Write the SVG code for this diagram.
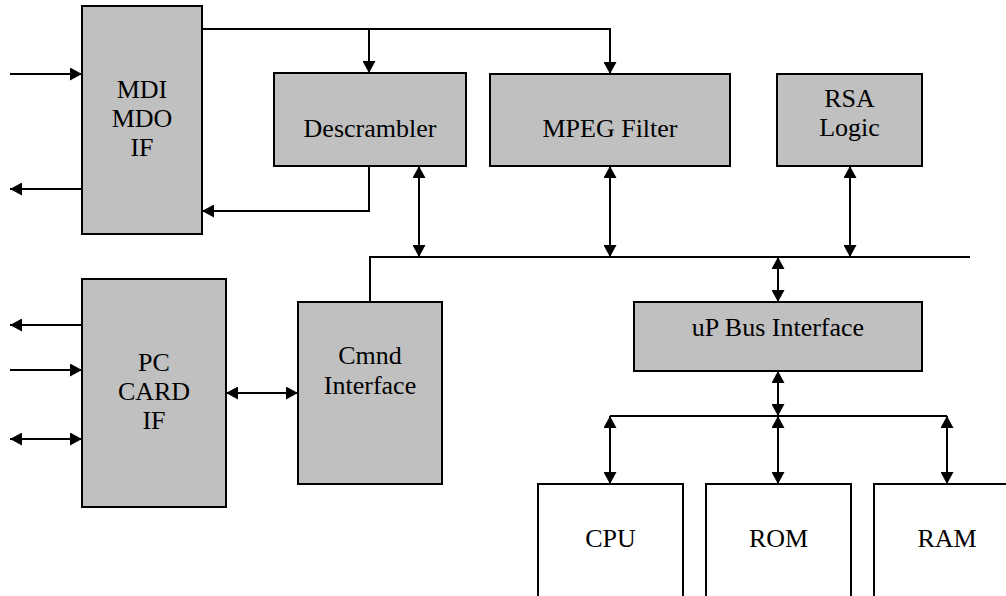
<svg xmlns="http://www.w3.org/2000/svg" width="1006" height="596" viewBox="0 0 1006 596">
  <style>
    .blk { fill: #c0c0c0; stroke: #000; stroke-width: 2; }
    .mem { fill: #fff; stroke: #000; stroke-width: 2; }
    .lbl { font-family: 'Liberation Serif', 'DejaVu Serif', serif; font-size: 26px; fill: #000; text-anchor: middle; }
    .wire { fill: none; stroke: #000; stroke-width: 2; }
    .one { marker-end: url(#ah); }
    .two { marker-start: url(#ah); marker-end: url(#ah); }
  </style>
  <defs>
    <marker id="ah" markerUnits="userSpaceOnUse" markerWidth="12" markerHeight="13" viewBox="0 0 12 13" refX="12" refY="6.5" orient="auto-start-reverse">
      <path d="M0,0 L12,6.5 L0,13 z" fill="#000"/>
    </marker>
  </defs>

  <rect width="1006" height="596" fill="#fff"/>

  <!-- functional blocks -->
  <g id="mdi">
    <rect class="blk" x="82" y="6" width="120" height="228"/>
    <text class="lbl" x="142" y="98">MDI</text>
    <text class="lbl" x="142" y="127">MDO</text>
    <text class="lbl" x="142" y="156">IF</text>
  </g>
  <g id="descrambler">
    <rect class="blk" x="274" y="73" width="192" height="93"/>
    <text class="lbl" x="370" y="137">Descrambler</text>
  </g>
  <g id="mpeg">
    <rect class="blk" x="490" y="74" width="240" height="92"/>
    <text class="lbl" x="610" y="137">MPEG Filter</text>
  </g>
  <g id="rsa">
    <rect class="blk" x="777" y="74" width="145" height="92"/>
    <text class="lbl" x="849.5" y="107">RSA</text>
    <text class="lbl" x="849.5" y="136">Logic</text>
  </g>
  <g id="pccard">
    <rect class="blk" x="82" y="279" width="144" height="228"/>
    <text class="lbl" x="154" y="371">PC</text>
    <text class="lbl" x="154" y="400">CARD</text>
    <text class="lbl" x="154" y="429">IF</text>
  </g>
  <g id="cmnd">
    <rect class="blk" x="298" y="302" width="144" height="182"/>
    <text class="lbl" x="370" y="364">Cmnd</text>
    <text class="lbl" x="370" y="394">Interface</text>
  </g>
  <g id="upbus">
    <rect class="blk" x="634" y="302" width="288" height="69"/>
    <text class="lbl" x="778" y="336">uP Bus Interface</text>
  </g>
  <g id="cpu">
    <rect class="mem" x="538" y="484" width="145" height="130"/>
    <text class="lbl" x="610.5" y="547">CPU</text>
  </g>
  <g id="rom">
    <rect class="mem" x="706" y="484" width="145" height="130"/>
    <text class="lbl" x="778.5" y="547">ROM</text>
  </g>
  <g id="ram">
    <rect class="mem" x="874" y="484" width="160" height="130"/>
    <text class="lbl" x="947" y="547">RAM</text>
  </g>

  <!-- connectors -->
  <g id="connectors">
    <line class="wire one" x1="10" y1="74" x2="82" y2="74"/>
    <line class="wire one" x1="82" y1="189" x2="10" y2="189"/>
    <path class="wire one" d="M202,29 H610 V74"/>
    <line class="wire one" x1="369" y1="29" x2="369" y2="73"/>
    <path class="wire one" d="M369,166 V211 H202"/>

    <!-- internal bus -->
    <path class="wire" d="M370,302 V257 H970"/>
    <line class="wire two" x1="419" y1="166" x2="419" y2="257"/>
    <line class="wire two" x1="610" y1="166" x2="610" y2="257"/>
    <line class="wire two" x1="850" y1="166" x2="850" y2="257"/>
    <line class="wire two" x1="778" y1="257" x2="778" y2="302"/>

    <!-- processor bus -->
    <line class="wire two" x1="778" y1="371" x2="778" y2="416"/>
    <line class="wire" x1="610" y1="416" x2="947" y2="416"/>
    <line class="wire two" x1="610" y1="416" x2="610" y2="484"/>
    <line class="wire two" x1="778" y1="416" x2="778" y2="484"/>
    <line class="wire two" x1="947" y1="416" x2="947" y2="484"/>

    <!-- PC card side -->
    <line class="wire one" x1="82" y1="325" x2="10" y2="325"/>
    <line class="wire one" x1="10" y1="370" x2="82" y2="370"/>
    <line class="wire two" x1="10" y1="439" x2="82" y2="439"/>
    <line class="wire two" x1="226" y1="393" x2="298" y2="393"/>
  </g>
</svg>
